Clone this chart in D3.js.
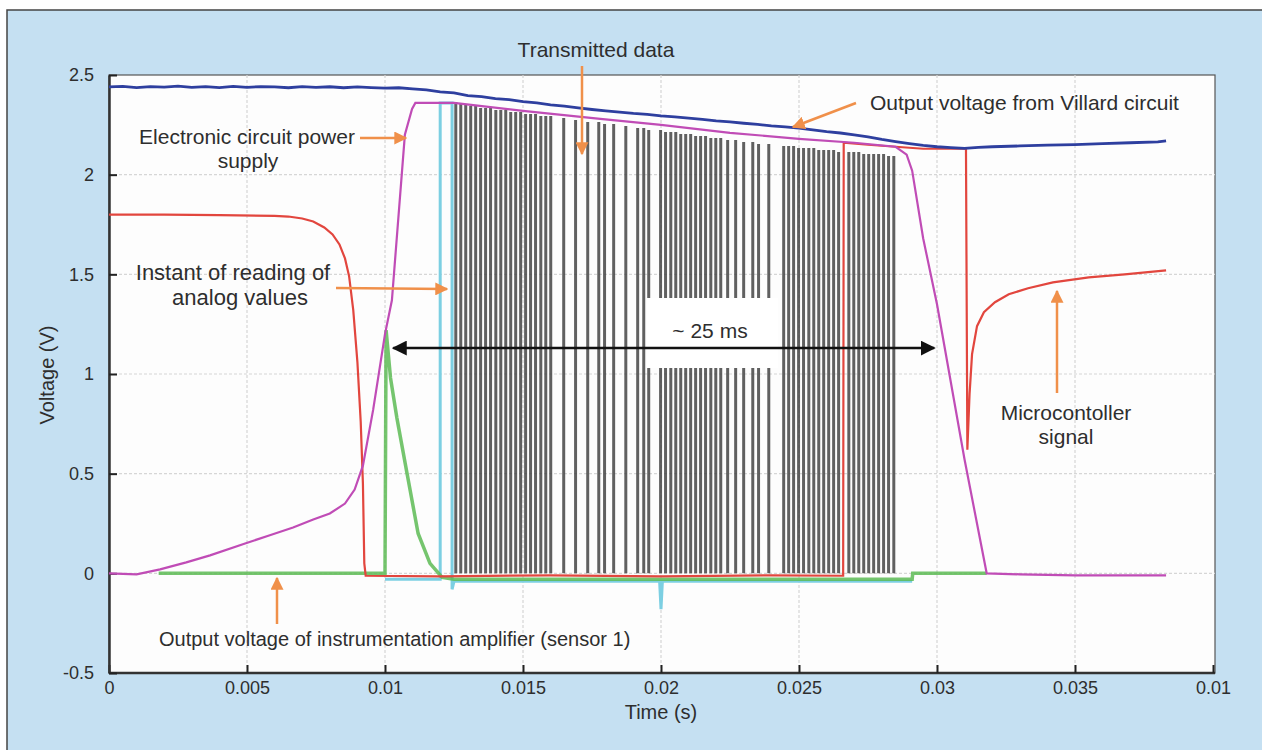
<!DOCTYPE html>
<html>
<head>
<meta charset="utf-8">
<script src="https://cdn.jsdelivr.net/npm/d3@7"></script>
<style>
  body { margin: 0; background: #ffffff; }
  svg text { font-family: "Liberation Sans", Arial, sans-serif; fill: #2e2e2e; }
</style>
</head>
<body>
<svg id="chart" width="1262" height="750"></svg>
<script>
// Axis ticks (time kept in ms, labels as printed in the figure)
const xTicks = [0, 5, 10, 15, 20, 25, 30, 35, 40];
const xTickLabels = ["0", "0.005", "0.01", "0.015", "0.02", "0.025", "0.03", "0.035", "0.01"];
const yTicks = [-0.5, 0, 0.5, 1, 1.5, 2, 2.5];
const yTickLabels = ["-0.5", "0", "0.5", "1", "1.5", "2", "2.5"];

// Output voltage from Villard circuit [ms, V]
const villard = [
  [0, 2.44], [0.5, 2.443], [1, 2.437], [1.5, 2.442], [2, 2.439], [2.5, 2.444], [3, 2.438], [3.5, 2.442],
  [4, 2.437], [4.5, 2.443], [5, 2.438], [5.5, 2.442], [6, 2.44], [6.5, 2.436], [7, 2.442], [7.5, 2.438],
  [8, 2.441], [8.5, 2.436], [9, 2.44], [9.5, 2.437], [10, 2.434], [10.5, 2.436], [11, 2.43], [11.5, 2.425],
  [12, 2.415], [12.5, 2.41], [13, 2.397], [13.5, 2.392], [14, 2.381], [14.5, 2.376], [15, 2.366], [15.5, 2.36],
  [16, 2.35], [16.5, 2.344], [17, 2.335], [17.5, 2.327], [18, 2.32], [18.5, 2.314], [19, 2.307], [19.5, 2.302],
  [20, 2.295], [20.5, 2.29], [21, 2.284], [21.5, 2.277], [22, 2.27], [22.5, 2.265], [23, 2.258], [23.5, 2.252],
  [24, 2.245], [24.5, 2.24], [25, 2.233], [25.5, 2.225], [26, 2.216], [26.5, 2.209], [27, 2.2], [27.5, 2.19],
  [28, 2.177], [28.5, 2.166], [29, 2.156], [29.5, 2.147], [30, 2.14], [30.5, 2.136], [31, 2.132], [31.5, 2.137],
  [32, 2.14], [33, 2.144], [34, 2.148], [35, 2.151], [36, 2.156], [37, 2.16], [38, 2.165], [38.3, 2.17]
];

// Electronic circuit power supply [ms, V]
const powerSupply = [
  [0, 0], [1, -0.005], [1.85, 0.02], [2.8, 0.055], [3.66, 0.09], [4.93, 0.15], [5.8, 0.19], [6.67, 0.23],
  [7.4, 0.27], [8.0, 0.3], [8.55, 0.35], [8.9, 0.42], [9.2, 0.54], [9.57, 0.82], [10.0, 1.2], [10.25, 1.37],
  [10.72, 2.2], [10.98, 2.33], [11.1, 2.36], [11.92, 2.36], [12.5, 2.36], [15, 2.32], [17.8, 2.28],
  [20, 2.25], [22.5, 2.21], [25, 2.18], [27, 2.16], [28.5, 2.14], [28.9, 2.1], [29.1, 2.02], [29.5, 1.68],
  [30.0, 1.35], [31.0, 0.57], [31.8, 0], [33, -0.005], [35, -0.01], [37, -0.01], [38.3, -0.01]
];

// Microcontroller signal [ms, V]
const microSignal = [
  [0, 1.8], [2, 1.8], [4, 1.797], [6, 1.793], [6.5, 1.79], [7.0, 1.78], [7.4, 1.765], [7.8, 1.735],
  [8.1, 1.7], [8.35, 1.65], [8.55, 1.58], [8.7, 1.49], [8.85, 1.32], [9.0, 1.06], [9.12, 0.76],
  [9.2, 0.45], [9.25, 0.05], [9.3, -0.012], [12, -0.015], [16, -0.01], [20, -0.015],
  [24, -0.01], [26.6, -0.012], [26.62, 2.16], [27.5, 2.15], [28.5, 2.14], [29.5, 2.13], [31.05, 2.13],
  [31.1, 0.62], [31.18, 0.9], [31.27, 1.1], [31.45, 1.24], [31.7, 1.31], [32.1, 1.36], [32.6, 1.4],
  [33.3, 1.43], [34.2, 1.46], [35.5, 1.485], [36.8, 1.5], [38.3, 1.52]
];

// Output voltage of instrumentation amplifier (sensor 1) [ms, V]
const ampOutput = [
  [1.8, 0], [10.0, 0], [10.04, 1.22], [10.2, 0.98], [10.43, 0.78], [10.8, 0.5], [11.2, 0.2], [11.63, 0.05],
  [12.07, -0.02], [12.5, -0.03], [20, -0.03], [29.1, -0.03], [29.12, 0], [31.8, 0]
];

// Instant of reading of analog values [ms, V]
const readInstant = [
  [10.0, -0.03], [12.0, -0.03], [12.0, 2.36], [12.43, 2.36], [12.43, -0.08], [12.5, -0.04],
  [19.95, -0.04], [20.0, -0.18], [20.05, -0.04], [29.1, -0.04]
];

// Transmitted data: pulse start [ms] and pulse top [V]
const pulseTimes = [
  12.54, 12.72, 12.90, 13.08, 13.26, 13.44, 13.62, 13.80, 13.99, 14.17, 14.35, 14.53, 14.71, 14.89,
  15.07, 15.25, 15.43, 15.62, 15.80, 15.98, 16.45, 16.88, 17.32, 17.72, 17.93, 18.26, 18.70, 19.13,
  19.35, 19.53, 19.96, 20.14, 20.33, 20.51, 20.69, 20.87, 21.05, 21.23, 21.41, 21.59, 21.78, 21.96,
  22.14, 22.39, 22.68, 22.97, 23.30, 23.51, 23.88, 24.42, 24.60, 24.78, 24.96, 25.14, 25.33, 25.51,
  25.69, 25.87, 26.05, 26.23, 26.41, 26.78, 26.96, 27.14, 27.32, 27.50, 27.68, 27.86, 28.04, 28.22, 28.41
];
const pulseTops = [
  2.36, 2.35, 2.35, 2.34, 2.34, 2.33, 2.33, 2.33, 2.32, 2.32, 2.32, 2.31, 2.31, 2.31,
  2.30, 2.30, 2.30, 2.29, 2.29, 2.29, 2.28, 2.27, 2.26, 2.26, 2.25, 2.25, 2.24, 2.23,
  2.23, 2.22, 2.22, 2.21, 2.21, 2.21, 2.20, 2.20, 2.20, 2.19, 2.19, 2.19, 2.18, 2.18,
  2.18, 2.17, 2.17, 2.16, 2.16, 2.15, 2.15, 2.14, 2.14, 2.14, 2.13, 2.13, 2.13, 2.13,
  2.12, 2.12, 2.12, 2.12, 2.11, 2.11, 2.11, 2.11, 2.10, 2.10, 2.10, 2.10, 2.10, 2.09, 2.09
];

// Span marker for the transmission (ms at each arrow tip, voltage level)
const spanMs = [10.3, 29.9];
const spanLevel = 1.13;

const svg = d3.select("#chart");
const orange = "#f0904a";

// Plot frame
const plotLeft = 109, plotRight = 1215, plotTop = 75, plotBottom = 673;
const x = d3.scaleLinear().domain([0, 40]).range([plotLeft, 1213]);
const y = d3.scaleLinear().domain([-0.5, 2.5]).range([plotBottom, plotTop]);

// Arrow markers
const defs = svg.append("defs");
function marker(id, color, size) {
  defs.append("marker")
    .attr("id", id)
    .attr("viewBox", "0 0 10 10")
    .attr("refX", 9).attr("refY", 5)
    .attr("markerUnits", "userSpaceOnUse")
    .attr("markerWidth", size).attr("markerHeight", size)
    .attr("orient", "auto-start-reverse")
    .append("path")
    .attr("d", "M0,0 L10,5 L0,10 z")
    .attr("fill", color);
}
marker("headOrange", orange, 13);
marker("headBlack", "#111", 15);

// Light blue panel
svg.append("rect")
  .attr("x", 7).attr("y", 10)
  .attr("width", 1270).attr("height", 760)
  .attr("fill", "#c5e0f2")
  .attr("stroke", "#444").attr("stroke-width", 1.5);

// White plot area
svg.append("rect")
  .attr("x", plotLeft).attr("y", plotTop)
  .attr("width", plotRight - plotLeft).attr("height", plotBottom - plotTop)
  .attr("fill", "#fdfdfd")
  .attr("stroke", "#555").attr("stroke-width", 1.2);

// Grid
const grid = svg.append("g");
grid.selectAll(".vg").data(xTicks.slice(1, -1)).enter().append("line")
  .attr("x1", d => x(d)).attr("x2", d => x(d))
  .attr("y1", plotTop).attr("y2", plotBottom)
  .attr("stroke", "#d6d6d6").attr("stroke-width", 1.2).attr("stroke-dasharray", "3,2");
grid.selectAll(".hg").data(yTicks.slice(1, -1)).enter().append("line")
  .attr("x1", plotLeft).attr("x2", plotRight)
  .attr("y1", d => y(d)).attr("y2", d => y(d))
  .attr("stroke", "#d6d6d6").attr("stroke-width", 1.2).attr("stroke-dasharray", "3,2");

// Axes
const xAxis = d3.axisBottom(x)
  .tickValues(xTicks)
  .tickFormat((d, i) => xTickLabels[i])
  .tickSizeInner(-8).tickSizeOuter(0).tickPadding(8);
const yAxis = d3.axisLeft(y)
  .tickValues(yTicks)
  .tickFormat((d, i) => yTickLabels[i])
  .tickSizeInner(-8).tickSizeOuter(0).tickPadding(15);

const gx = svg.append("g").attr("transform", `translate(0,${plotBottom})`).call(xAxis);
const gy = svg.append("g").attr("transform", `translate(${plotLeft},0)`).call(yAxis);
[gx, gy].forEach(g => {
  g.select(".domain").attr("stroke", "#333").attr("stroke-width", 2.5);
  g.selectAll(".tick line").attr("stroke", "#222").attr("stroke-width", 2);
  g.selectAll(".tick text").style("font-size", "18px").attr("fill", "#2e2e2e");
});
gx.select(".domain").attr("d", `M${plotLeft},0H${plotRight}`);

// Series
const line = d3.line().x(d => x(d[0])).y(d => y(d[1]));
const plot = svg.append("g");

// transmitted data pulses
const pulseWidth = 0.05;
plot.selectAll(".pulse").data(pulseTimes).enter().append("path")
  .attr("d", (t, i) => line([[t, 0], [t, pulseTops[i]], [t + pulseWidth, pulseTops[i]], [t + pulseWidth, 0]]))
  .attr("fill", "none")
  .attr("stroke", "#444").attr("stroke-width", 1.6).attr("stroke-opacity", 0.85);

plot.append("path").datum(readInstant).attr("d", line)
  .attr("fill", "none").attr("stroke", "#7ccfe2").attr("stroke-width", 3);
plot.append("path").datum(ampOutput).attr("d", line)
  .attr("fill", "none").attr("stroke", "#5dbb55").attr("stroke-width", 3.5).attr("stroke-opacity", 0.85);
plot.append("path").datum(microSignal).attr("d", line)
  .attr("fill", "none").attr("stroke", "#e2463e").attr("stroke-width", 2.2);
plot.append("path").datum(powerSupply).attr("d", line)
  .attr("fill", "none").attr("stroke", "#c04cb6").attr("stroke-width", 2.2);
plot.append("path").datum(villard).attr("d", line)
  .attr("fill", "none").attr("stroke", "#2e3f9f").attr("stroke-width", 2.8);

// White box behind span label
svg.append("rect")
  .attr("x", 647).attr("y", 298).attr("width", 131).attr("height", 70)
  .attr("fill", "#ffffff");

// Span double arrow
svg.append("line")
  .attr("x1", x(spanMs[0])).attr("x2", x(spanMs[1]))
  .attr("y1", y(spanLevel)).attr("y2", y(spanLevel))
  .attr("stroke", "#111").attr("stroke-width", 2.5)
  .attr("marker-start", "url(#headBlack)").attr("marker-end", "url(#headBlack)");

// Annotations
function label(txt, tx, ty, anchor, size) {
  svg.append("text").attr("x", tx).attr("y", ty)
    .attr("text-anchor", anchor || "middle")
    .style("font-size", (size || 21) + "px").text(txt);
}
function arrow(x1, y1, x2, y2) {
  svg.append("line")
    .attr("x1", x1).attr("y1", y1).attr("x2", x2).attr("y2", y2)
    .attr("stroke", orange).attr("stroke-width", 2.5)
    .attr("marker-end", "url(#headOrange)");
}

label("~ 25 ms", 710, 338);

label("Transmitted data", 596, 57);
arrow(582, 66, 582, 154);

label("Output voltage from Villard circuit", 870, 110, "start");
arrow(856, 103, 793, 127);

label("Electronic circuit power", 247, 144);
label("supply", 248, 168);
arrow(360, 138, 406, 138);

label("Instant of reading of", 233, 280, "middle", 22);
label("analog values", 240, 305, "middle", 22);
arrow(336, 288, 447, 289);

label("Microcontoller", 1066, 420);
label("signal", 1066, 444);
arrow(1057, 393, 1057, 291);

label("Output voltage of instrumentation amplifier (sensor 1)", 159, 646, "start", 20);
arrow(277, 624, 277, 578);

// Axis titles
svg.append("text")
  .attr("x", 661).attr("y", 719)
  .attr("text-anchor", "middle")
  .style("font-size", "20px").text("Time (s)");
svg.append("text")
  .attr("transform", "translate(54,375) rotate(-90)")
  .attr("text-anchor", "middle")
  .style("font-size", "20px").text("Voltage (V)");
</script>
</body>
</html>
